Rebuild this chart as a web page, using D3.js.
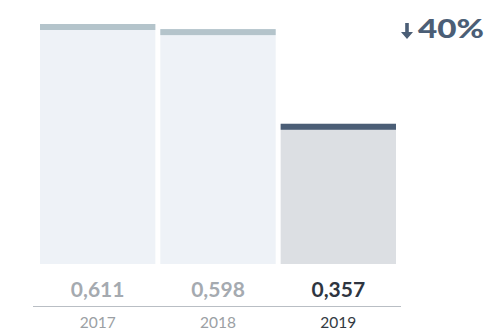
<!DOCTYPE html>
<html>
<head>
<meta charset="utf-8">
<script src="https://cdn.jsdelivr.net/npm/d3@7"></script>
<style>
  html, body { margin: 0; padding: 0; background: #fff; }
  svg { display: block; font-family: Lato, "Open Sans", sans-serif; }
</style>
</head>
<body>
<svg id="chart" width="490" height="330"></svg>
<script>
const years = ["2017", "2018", "2019"];
const values = [0.611, 0.598, 0.357];
const valueLabels = ["0,611", "0,598", "0,357"];
const changeLabel = "40%";

const svg = d3.select("#chart");
const baseY = 264;

const x = d3.scaleBand().domain(years).range([40, 396]).paddingInner(0.0415).paddingOuter(0);
const y = d3.scaleLinear().domain([0, 0.611]).range([baseY, 24]);

const isLast = (d, i) => i === years.length - 1;
const bodyFill = (d, i) => isLast(d, i) ? "#dcdfe3" : "#eef2f7";
const capFill = (d, i) => isLast(d, i) ? "#4b5e76" : "#b4c4cb";

const g = svg.append("g");
g.selectAll("rect.body").data(values).join("rect")
  .attr("class", "body")
  .attr("x", (d, i) => x(years[i]))
  .attr("width", x.bandwidth())
  .attr("y", d => y(d))
  .attr("height", d => baseY - y(d))
  .attr("fill", bodyFill);

g.selectAll("rect.cap").data(values).join("rect")
  .attr("class", "cap")
  .attr("x", (d, i) => x(years[i]))
  .attr("width", x.bandwidth())
  .attr("y", d => y(d))
  .attr("height", 6)
  .attr("fill", capFill);

// value labels under the bars
g.selectAll("text.val").data(valueLabels).join("text")
  .attr("class", "val")
  .attr("x", (d, i) => x(years[i]) + x.bandwidth() / 2)
  .attr("y", 297)
  .attr("text-anchor", "middle")
  .attr("font-size", 21)
  .attr("font-weight", 700)
  .attr("fill", (d, i) => isLast(d, i) ? "#2e3540" : "#a5aab0")
  .text(d => d);

// baseline rule
svg.append("line")
  .attr("x1", 33).attr("x2", 401)
  .attr("y1", 306.5).attr("y2", 306.5)
  .attr("stroke", "#b9bec4").attr("stroke-width", 1);

// year axis
const axis = d3.axisBottom(x).tickSize(0).tickPadding(0);
const ax = svg.append("g").attr("transform", "translate(0,328)").call(axis);
ax.select(".domain").remove();
ax.selectAll("text")
  .attr("y", 0)
  .attr("dy", 0)
  .attr("font-size", 15.5)
  .attr("font-family", "Lato, 'Open Sans', sans-serif")
  .attr("fill", (d, i) => isLast(d, i) ? "#333a42" : "#9b9fa4");

// change indicator
const ind = svg.append("g").attr("fill", "#4b5e76");
ind.append("path")
  .attr("d", "M405.2,23 h3.6 v9 h4.2 l-6,7 l-6,-7 h4.2 z");
ind.append("text")
  .attr("x", 418).attr("y", 38)
  .attr("font-size", 26)
  .attr("font-weight", 900)
  .attr("textLength", 66)
  .attr("lengthAdjust", "spacingAndGlyphs")
  .text(changeLabel);
</script>
</body>
</html>
